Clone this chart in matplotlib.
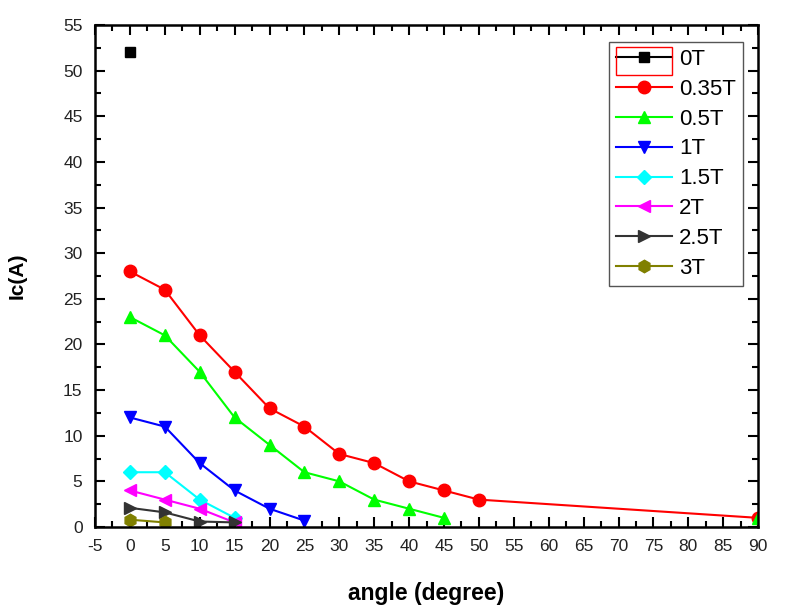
import matplotlib.pyplot as plt
from matplotlib.patches import Rectangle
from matplotlib.ticker import MultipleLocator

plt.rcParams['font.family'] = ['Liberation Sans', 'DejaVu Sans']
plt.rcParams['axes.unicode_minus'] = False

# data
ang_0T = [0]
ic_0T = [52]
ang_035T = [0, 5, 10, 15, 20, 25, 30, 35, 40, 45, 50, 90]
ic_035T = [28, 26, 21, 17, 13, 11, 8, 7, 5, 4, 3, 1]
ang_05T = [0, 5, 10, 15, 20, 25, 30, 35, 40, 45]
ic_05T = [23, 21, 17, 12, 9, 6, 5, 3, 2, 1]
ang_05T_extra = [90]
ic_05T_extra = [1]
ang_1T = [0, 5, 10, 15, 20, 25]
ic_1T = [12, 11, 7, 4, 2, 0.7]
ang_15T = [0, 5, 10, 15]
ic_15T = [6, 6, 3, 1]
ang_2T = [0, 5, 10, 15]
ic_2T = [4, 3, 2, 0.5]
ang_25T = [0, 5, 10, 15]
ic_25T = [2.1, 1.6, 0.6, 0.5]
ang_3T = [0, 5]
ic_3T = [0.8, 0.5]

fig = plt.figure(figsize=(7.93, 6.11), dpi=100)
ax = fig.add_axes([0.1198, 0.1375, 0.8362, 0.8215])

ms = 9
lw = 1.5
ax.plot(ang_0T, ic_0T, '-s', color='black', ms=7, lw=lw, label='0T')
ax.plot(ang_035T, ic_035T, '-o', color='red', ms=ms, lw=lw, label='0.35T')
ax.plot(ang_05T, ic_05T, '-^', color='#00ff00', ms=ms, lw=lw, label='0.5T')
ax.plot(ang_05T_extra, ic_05T_extra, '^', color='#00ff00', ms=ms)
ax.plot(ang_1T, ic_1T, '-v', color='blue', ms=ms, lw=lw, label='1T')
ax.plot(ang_15T, ic_15T, '-D', color='cyan', ms=7.5, lw=lw, label='1.5T')
ax.plot(ang_2T, ic_2T, '-<', color='magenta', ms=ms, lw=lw, label='2T')
ax.plot(ang_25T, ic_25T, '->', color='#333333', ms=ms, lw=lw, label='2.5T')
ax.plot(ang_3T, ic_3T, '-h', color='#808000', ms=ms, lw=lw, label='3T')

ax.set_xlim(-5, 90)
ax.set_ylim(0, 55)
ax.xaxis.set_major_locator(MultipleLocator(5))
ax.xaxis.set_minor_locator(MultipleLocator(2.5))
ax.yaxis.set_major_locator(MultipleLocator(5))
ax.yaxis.set_minor_locator(MultipleLocator(2.5))
ax.tick_params(which='both', direction='in', top=True, right=True, width=1.5)
ax.tick_params(which='major', length=7, labelsize=12.5, labelcolor='#222222')
ax.tick_params(axis='x', which='major', pad=9)
ax.tick_params(axis='y', which='major', pad=9)
ax.tick_params(which='minor', length=4)
for s in ax.spines.values():
    s.set_linewidth(1.8)

ax.set_xlabel('angle (degree)', fontsize=16.5, fontweight='bold', labelpad=20)
ax.set_ylabel('Ic(A)', fontsize=15, fontweight='bold', labelpad=26)

leg = ax.legend(loc='upper right', bbox_to_anchor=(0.977, 0.966), fontsize=16,
                fancybox=False, framealpha=1, edgecolor='#555555',
                handlelength=2.5, borderaxespad=0, labelspacing=0.4,
                handletextpad=0.35, borderpad=0.3)
leg.get_frame().set_linewidth(1.0)

# red selection box around the first legend entry
fig.patches.append(Rectangle((616 / 793, 1 - 75 / 611), 56 / 793, 28 / 611,
                             transform=fig.transFigure, fill=False,
                             edgecolor='red', lw=1))

fig.savefig('out.png', dpi=100)
